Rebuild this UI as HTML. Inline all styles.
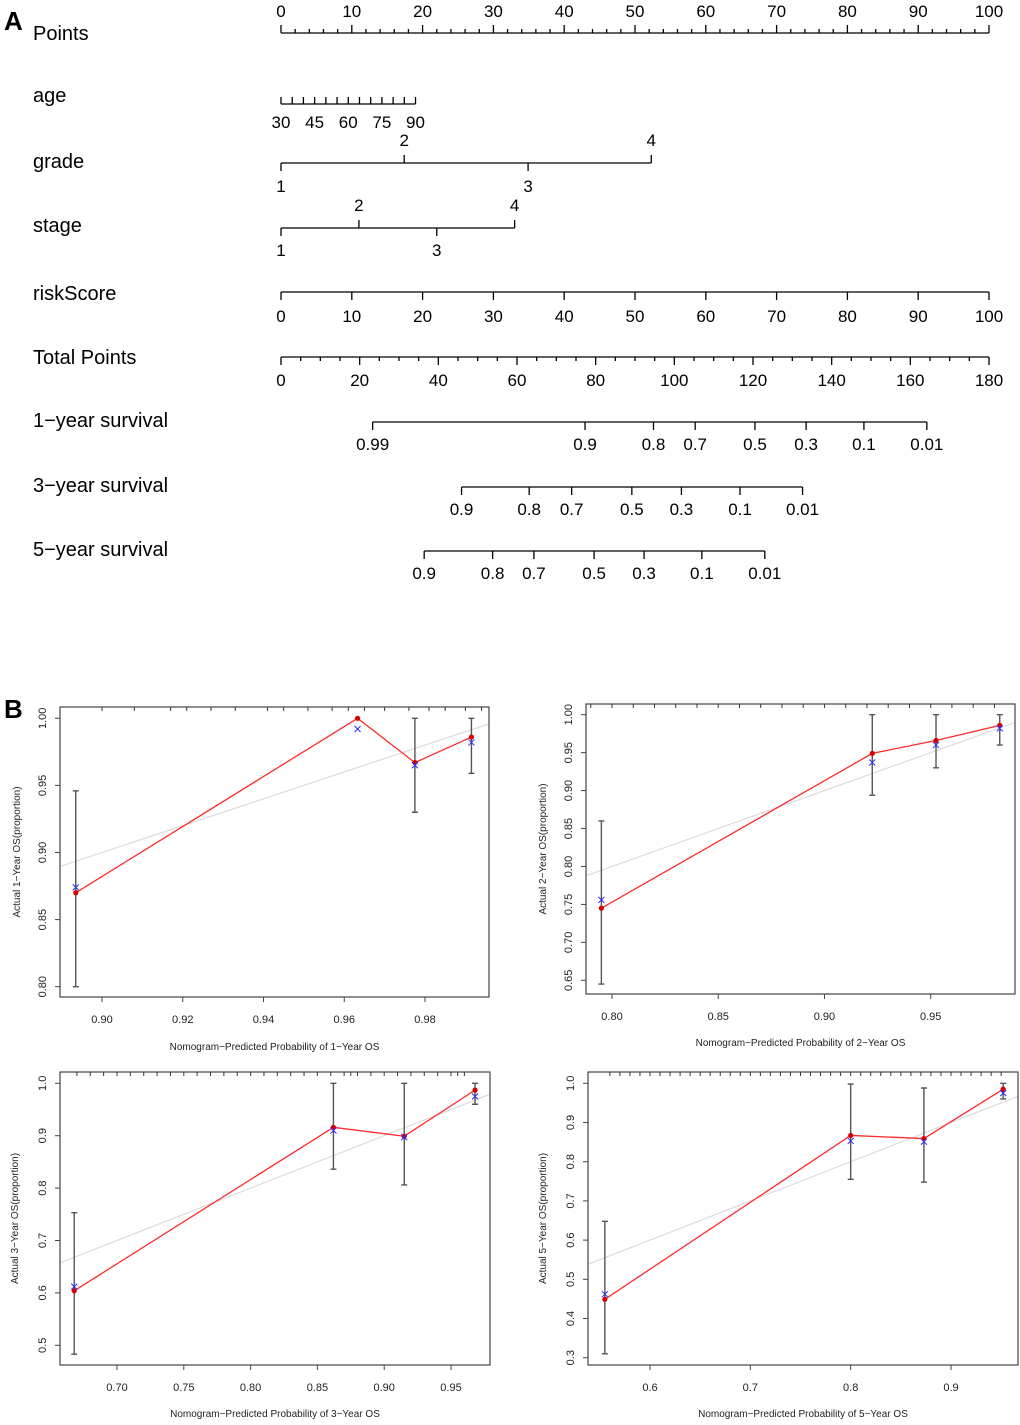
<!DOCTYPE html>
<html><head><meta charset="utf-8"><style>
html,body{margin:0;padding:0;background:#fff;}
svg{display:block;font-family:"Liberation Sans",Arial,sans-serif;}
</style></head><body>
<svg id="fig" width="1020" height="1425" viewBox="0 0 1020 1425" xmlns="http://www.w3.org/2000/svg">
<text x="4" y="30" font-size="26" font-weight="bold">A</text>
<text x="4" y="718" font-size="26" font-weight="bold">B</text>
<g id="nomo"></g>
<g id="cal"></g>
</svg>
<script>
const NS="http://www.w3.org/2000/svg";
function mk(parent,tag,attrs,text){const e=document.createElementNS(NS,tag);for(const k in attrs)e.setAttribute(k,attrs[k]);if(text!==undefined)e.textContent=text;parent.appendChild(e);return e;}

/* ---------- Nomogram data ---------- */
const rowLabels=["Points","age","grade","stage","riskScore","Total Points","1\u2212year survival","3\u2212year survival","5\u2212year survival"];
const pointsTicks=[0,10,20,30,40,50,60,70,80,90,100];
const ageTicks=[30,35,40,45,50,55,60,65,70,75,80,85,90];
const ageLabels=[30,45,60,75,90];
const ageMaxPoints=19;
const gradeLevels=[1,2,3,4];
const gradePoints=[0,17.4,34.9,52.3];
const stageLevels=[1,2,3,4];
const stagePoints=[0,11,22,33];
const riskTicks=[0,10,20,30,40,50,60,70,80,90,100];
const totalTicks=[0,20,40,60,80,100,120,140,160,180];
const surv1Labels=["0.99","0.9","0.8","0.7","0.5","0.3","0.1","0.01"];
const surv1Total=[23.3,77.3,94.7,105.3,120.5,133.5,148.2,164.2];
const surv3Labels=["0.9","0.8","0.7","0.5","0.3","0.1","0.01"];
const surv3Total=[45.9,63.1,73.9,89.2,101.8,116.7,132.6];
const surv5Labels=["0.9","0.8","0.7","0.5","0.3","0.1","0.01"];
const surv5Total=[36.4,53.8,64.3,79.6,92.3,107.0,123.0];

const NX0=281,NX1=989;
function px(p){return NX0+(NX1-NX0)*p/100;}
function tx(t){return NX0+(NX1-NX0)*t/180;}
const labY=[40,102,168,232,300,364,427,492,556];
const nomo=document.getElementById('nomo');
rowLabels.forEach((l,i)=>{const t=mk(nomo,'text',{x:33,y:labY[i],'font-size':20},l);

});
function line(g,x1,y1,x2,y2,name){const l=mk(g,'line',{x1,y1,x2,y2,stroke:'#000','stroke-width':1.3});

return l;}
function lbl(g,x,y,s,name,size){const t=mk(g,'text',{x,y,'font-size':size||17,'text-anchor':'middle'},s);

return t;}
line(nomo,NX0,33,NX1,33,'points-axis');
for(let p=0;p<=100;p+=2){const maj=p%10===0;line(nomo,px(p),33,px(p),maj?25:29,'points-tick');}
pointsTicks.forEach(p=>lbl(nomo,px(p),17,String(p),'points-tick-label'));
const ageX=a=>px((a-30)/60*ageMaxPoints);
line(nomo,ageX(30),104,ageX(90),104,'age-axis');
ageTicks.forEach(a=>line(nomo,ageX(a),104,ageX(a),97,'age-tick'));
ageLabels.forEach(a=>lbl(nomo,ageX(a),128,String(a),'age-tick-label'));
line(nomo,px(gradePoints[0]),163,px(gradePoints[3]),163,'grade-axis');
gradeLevels.forEach((g,i)=>{const x=px(gradePoints[i]);const up=i%2===1;
line(nomo,x,163,x,up?155:171,'grade-tick');
lbl(nomo,x,up?146:192,String(g),'grade-tick-label');});
line(nomo,px(stagePoints[0]),228,px(stagePoints[3]),228,'stage-axis');
stageLevels.forEach((g,i)=>{const x=px(stagePoints[i]);const up=i%2===1;
line(nomo,x,228,x,up?220:236,'stage-tick');
lbl(nomo,x,up?211:256,String(g),'stage-tick-label');});
line(nomo,NX0,292,NX1,292,'riskscore-axis');
riskTicks.forEach(p=>{line(nomo,px(p),292,px(p),300,'riskscore-tick');lbl(nomo,px(p),322,String(p),'riskscore-tick-label');});
line(nomo,NX0,357,NX1,357,'total-points-axis');
for(let t=0;t<=180;t+=5){const maj=t%20===0;line(nomo,tx(t),357,tx(t),maj?365:361,'total-points-tick');}
totalTicks.forEach(t=>lbl(nomo,tx(t),386,String(t),'total-points-tick-label'));
function surv(labels,tot,y,name){line(nomo,tx(tot[0]),y,tx(tot[tot.length-1]),y,name+'-axis');
tot.forEach((t,i)=>{line(nomo,tx(t),y,tx(t),y+8,name+'-tick');lbl(nomo,tx(t),y+28,labels[i],name+'-tick-label');});}
surv(surv1Labels,surv1Total,422,'1-year-survival');
surv(surv3Labels,surv3Total,487,'3-year-survival');
surv(surv5Labels,surv5Total,551,'5-year-survival');

/* ---------- Calibration data ---------- */
const p1Pred=[0.8935,0.9633,0.9775,0.9915];
const p1Obs=[0.870,1.000,0.967,0.986];
const p1Corr=[0.874,0.992,0.965,0.982];
const p1Lo=[0.800,1.000,0.930,0.959];
const p1Hi=[0.946,1.000,1.000,1.000];
const p1Rug=[0.900,0.908,0.917,0.921,0.927,0.933,0.941,0.945,0.951,0.957,0.961,0.965,0.970,0.976,0.981,0.985,0.990,0.994];
const p1XTicks=[0.90,0.92,0.94,0.96,0.98];
const p1YTicks=[0.80,0.85,0.90,0.95,1.00];

const p2Pred=[0.795,0.9225,0.9525,0.9825];
const p2Obs=[0.745,0.949,0.966,0.986];
const p2Corr=[0.756,0.937,0.960,0.982];
const p2Lo=[0.645,0.894,0.930,0.960];
const p2Hi=[0.860,1.000,1.000,1.000];
const p2Rug=[0.79,0.80,0.81,0.82,0.83,0.84,0.85,0.86,0.87,0.88,0.89,0.90,0.91,0.92,0.93,0.94,0.95,0.96,0.97,0.98];
const p2XTicks=[0.80,0.85,0.90,0.95];
const p2YTicks=[0.65,0.70,0.75,0.80,0.85,0.90,0.95,1.00];

const p3Pred=[0.668,0.862,0.915,0.968];
const p3Obs=[0.604,0.916,0.899,0.987];
const p3Corr=[0.612,0.910,0.897,0.975];
const p3Lo=[0.483,0.836,0.806,0.960];
const p3Hi=[0.753,1.000,1.000,1.000];
const p3Rug=[0.67,0.68,0.69,0.70,0.71,0.72,0.73,0.74,0.75,0.76,0.77,0.78,0.79,0.80,0.81,0.82,0.83,0.84,0.85,0.86,0.87,0.875,0.88,0.89,0.90,0.91,0.92,0.93,0.94,0.95,0.955,0.96];
const p3XTicks=[0.70,0.75,0.80,0.85,0.90,0.95];
const p3YTicks=[0.5,0.6,0.7,0.8,0.9,1.0];

const p4Pred=[0.555,0.800,0.873,0.952];
const p4Obs=[0.449,0.867,0.859,0.985];
const p4Corr=[0.462,0.853,0.851,0.975];
const p4Lo=[0.310,0.755,0.748,0.960];
const p4Hi=[0.648,0.998,0.988,1.000];
const p4Rug=[0.56,0.57,0.58,0.59,0.60,0.61,0.62,0.63,0.64,0.65,0.66,0.67,0.68,0.69,0.70,0.71,0.72,0.73,0.74,0.75,0.76,0.77,0.78,0.79,0.80,0.81,0.82,0.83,0.84,0.85,0.86,0.87,0.88,0.89,0.90,0.91,0.92,0.93,0.94,0.95];
const p4XTicks=[0.6,0.7,0.8,0.9];
const p4YTicks=[0.3,0.4,0.5,0.6,0.7,0.8,0.9,1.0];

const cal=document.getElementById('cal');
function fmt(v,d){return v.toFixed(d);}
function calPlot(cfg){
 const g=mk(cal,'g',{});
 
 
 const {bx0,bx1,by0,by1}=cfg;
 const X=v=>cfg.xa+(v-cfg.xv0)*(cfg.xb-cfg.xa)/(cfg.xv1-cfg.xv0);
 const Y=v=>cfg.ya+(v-cfg.yv0)*(cfg.yb-cfg.ya)/(cfg.yv1-cfg.yv0);
 const cid='clip'+cfg.name;
 const cp=mk(g,'clipPath',{id:cid});mk(cp,'rect',{x:bx0,y:by0,width:bx1-bx0,height:by1-by0});
 const xl=cfg.xv0+(bx0-cfg.xa)*(cfg.xv1-cfg.xv0)/(cfg.xb-cfg.xa);
 const xr=cfg.xv0+(bx1-cfg.xa)*(cfg.xv1-cfg.xv0)/(cfg.xb-cfg.xa);
 const diag=mk(g,'line',{x1:X(xl),y1:Y(xl),x2:X(xr),y2:Y(xr),stroke:'#dcdcdc','stroke-width':1.2,'clip-path':'url(#'+cid+')'});
 
 
 cfg.rug.forEach(v=>{const r=mk(g,'line',{x1:X(v),y1:by0,x2:X(v),y2:by0+4,stroke:'#333','stroke-width':1});
 
 });
 cfg.pred.forEach((p,i)=>{if(cfg.hi[i]-cfg.lo[i]<0.001)return;
  const x=X(p);
  const e=mk(g,'path',{d:`M${x-3},${Y(cfg.hi[i])}H${x+3}M${x},${Y(cfg.hi[i])}V${Y(cfg.lo[i])}M${x-3},${Y(cfg.lo[i])}H${x+3}`,stroke:'#555','stroke-width':1.4,fill:'none'});
  
  });
 const pl=mk(g,'polyline',{points:cfg.pred.map((p,i)=>X(p)+','+Y(cfg.obs[i])).join(' '),fill:'none',stroke:'#ff2a2a','stroke-width':1.3});
 
 
 cfg.pred.forEach((p,i)=>{const c=mk(g,'circle',{cx:X(p),cy:Y(cfg.obs[i]),r:2.6,fill:'#d40000'});
 
 
 const x=X(p),y=Y(cfg.corr[i]);
 const m=mk(g,'path',{d:`M${x-3},${y-3}L${x+3},${y+3}M${x-3},${y+3}L${x+3},${y-3}`,stroke:'#2b2bff','stroke-width':1});
 
 });
 const b=mk(g,'rect',{x:bx0,y:by0,width:bx1-bx0,height:by1-by0,fill:'none',stroke:'#444','stroke-width':1.2});
 
 
 cfg.xt.forEach(v=>{const x=X(v);const t=mk(g,'line',{x1:x,y1:by1,x2:x,y2:by1+5,stroke:'#444'});
 
 
 const l=mk(g,'text',{x:x,y:by1+26,'font-size':11,'text-anchor':'middle',fill:'#222'},fmt(v,cfg.xd));
 
 });
 cfg.yt.forEach(v=>{const y=Y(v);const t=mk(g,'line',{x1:bx0,y1:y,x2:bx0-5,y2:y,stroke:'#444'});
 
 
 const lx=bx0-14;
 const l=mk(g,'text',{x:lx,y:y,'font-size':11,'text-anchor':'middle',fill:'#222',transform:`rotate(-90 ${lx} ${y})`},fmt(v,cfg.yd));
 
 });
 const xt=mk(g,'text',{x:(bx0+bx1)/2,y:cfg.xty,'font-size':10,'text-anchor':'middle',fill:'#222'},cfg.xtitle);
 
 
 const yx=cfg.ytx,yy=(by0+by1)/2;
 const yt=mk(g,'text',{x:yx,y:yy,'font-size':10,'text-anchor':'middle',fill:'#222',transform:`rotate(-90 ${yx} ${yy})`},cfg.ytitle);
 
 
}
calPlot({name:'calibration-1-year',bx0:60,bx1:489,by0:707,by1:997,xa:102,xb:425,xv0:0.90,xv1:0.98,ya:718.3,yb:986.7,yv0:1.0,yv1:0.8,
 pred:p1Pred,obs:p1Obs,corr:p1Corr,lo:p1Lo,hi:p1Hi,rug:p1Rug,xt:p1XTicks,yt:p1YTicks,xd:2,yd:2,xty:1050,ytx:20,
 xtitle:'Nomogram\u2212Predicted Probability of 1\u2212Year OS',ytitle:'Actual 1\u2212Year OS(proportion)'});
calPlot({name:'calibration-2-year',bx0:586,bx1:1015,by0:704,by1:994,xa:612,xb:930.7,xv0:0.80,xv1:0.95,ya:714.7,yb:980.3,yv0:1.0,yv1:0.65,
 pred:p2Pred,obs:p2Obs,corr:p2Corr,lo:p2Lo,hi:p2Hi,rug:p2Rug,xt:p2XTicks,yt:p2YTicks,xd:2,yd:2,xty:1046,ytx:546,
 xtitle:'Nomogram\u2212Predicted Probability of 2\u2212Year OS',ytitle:'Actual 2\u2212Year OS(proportion)'});
calPlot({name:'calibration-3-year',bx0:60,bx1:490,by0:1072,by1:1365,xa:117,xb:451,xv0:0.70,xv1:0.95,ya:1083.3,yb:1345.3,yv0:1.0,yv1:0.5,
 pred:p3Pred,obs:p3Obs,corr:p3Corr,lo:p3Lo,hi:p3Hi,rug:p3Rug,xt:p3XTicks,yt:p3YTicks,xd:2,yd:1,xty:1417,ytx:18,
 xtitle:'Nomogram\u2212Predicted Probability of 3\u2212Year OS',ytitle:'Actual 3\u2212Year OS(proportion)'});
calPlot({name:'calibration-5-year',bx0:588,bx1:1018,by0:1072,by1:1365,xa:650,xb:951,xv0:0.6,xv1:0.9,ya:1083.3,yb:1357.7,yv0:1.0,yv1:0.3,
 pred:p4Pred,obs:p4Obs,corr:p4Corr,lo:p4Lo,hi:p4Hi,rug:p4Rug,xt:p4XTicks,yt:p4YTicks,xd:1,yd:1,xty:1417,ytx:546,
 xtitle:'Nomogram\u2212Predicted Probability of 5\u2212Year OS',ytitle:'Actual 5\u2212Year OS(proportion)'});
</script>
</body></html>
